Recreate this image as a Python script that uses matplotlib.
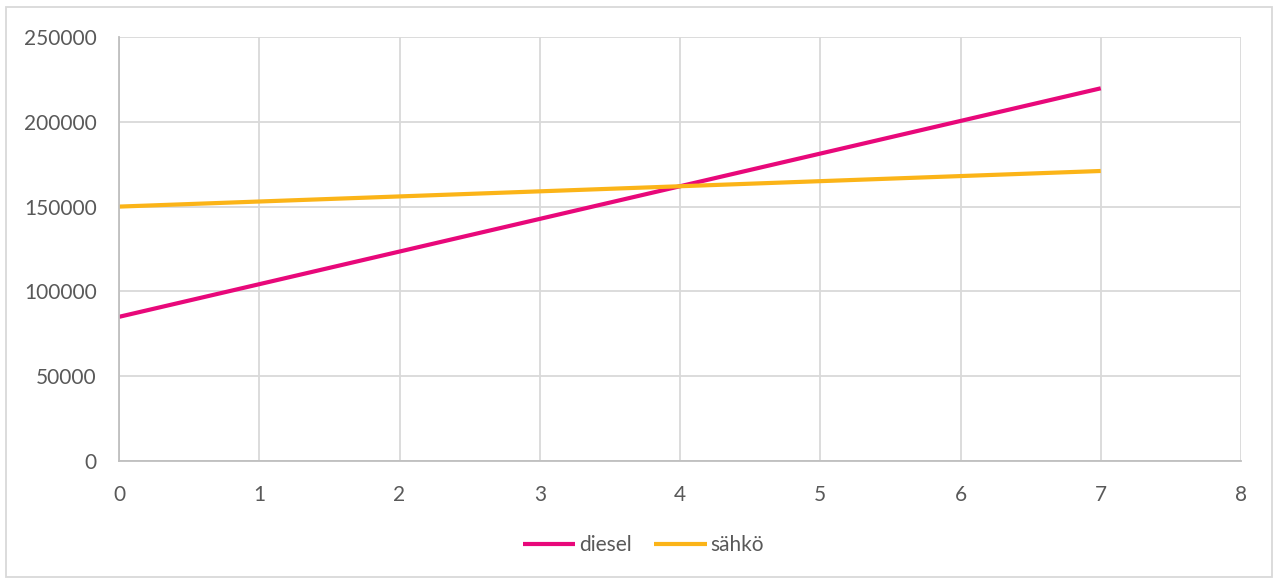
import matplotlib.pyplot as plt
from matplotlib.patches import Rectangle

plt.rcParams['font.family'] = ['Lato', 'DejaVu Sans']
plt.rcParams['font.size'] = 15

years = [0, 1, 2, 3, 4, 5, 6, 7]
diesel = [85000, 104250, 123500, 142750, 162000, 181250, 200500, 219750]
sahko = [150000, 153000, 156000, 159000, 162000, 165000, 168000, 171000]

text_col = '#595959'
grid_col = '#d9d9d9'

fig = plt.figure(figsize=(12.74, 5.78), dpi=100)
ax = fig.add_axes([119 / 1274, 1 - 461 / 578, 1122 / 1274, 424 / 578])

ax.plot(years, diesel, color='#e8087a', lw=3, label='diesel', solid_capstyle='butt')
ax.plot(years, sahko, color='#fbb418', lw=3, label='sähkö', solid_capstyle='butt')

ax.set_xlim(0, 8)
ax.set_ylim(0, 250000)
ax.set_xticks(range(0, 9))
ax.set_yticks(range(0, 250001, 50000))
ax.grid(True, color=grid_col, lw=1.3)
ax.set_axisbelow(True)
for side in ['top', 'right']:
    ax.spines[side].set_visible(False)
for side in ['left', 'bottom']:
    ax.spines[side].set_color('#bfbfbf')
    ax.spines[side].set_linewidth(1.3)
ax.tick_params(length=0, colors=text_col, labelsize=15)
ax.tick_params(axis='y', pad=16)
ax.tick_params(axis='x', pad=17)

fig.legend(loc='center', bbox_to_anchor=(0.505, 1 - 545 / 578), ncol=2, frameon=False,
           fontsize=15, labelcolor=text_col, handlelength=2.5, handletextpad=0.2,
           columnspacing=1.1)

# light frame around the whole chart
fig.patches.append(Rectangle((6 / 1274, 1 / 578), 1266 / 1274, 570 / 578,
                             transform=fig.transFigure, fill=False,
                             edgecolor='#d9d9d9', lw=1.3))

fig.savefig('out.png', dpi=100)
